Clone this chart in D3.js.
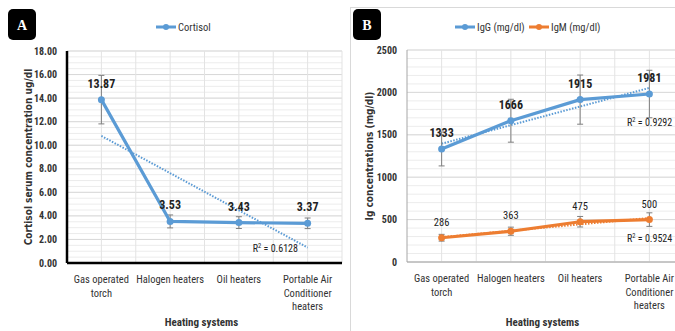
<!DOCTYPE html>
<html>
<head>
<meta charset="utf-8">
<script src="https://cdn.jsdelivr.net/npm/d3@7"></script>
<style>
  body { margin: 0; background: #fff; }
  svg { display: block; font-family: "Liberation Sans Narrow", "Roboto Condensed", "Liberation Sans", Arial, sans-serif; }
</style>
</head>
<body>
<svg id="chart" width="675" height="331"></svg>
<script>
// categories shared by both panels
const categories = [
  ["Gas operated", "torch"],
  ["Halogen heaters"],
  ["Oil heaters"],
  ["Portable Air", "Conditioner", "heaters"]
];

// panel A
const cortisol = [13.87, 3.53, 3.43, 3.37];
const cortisolErr = [2.06, 0.55, 0.5, 0.45];
const cortisolTicks = [0, 2, 4, 6, 8, 10, 12, 14, 16, 18];
const cortisolR2 = "0.6128";

// panel B
const igg = [1333, 1666, 1915, 1981];
const iggErr = [200, 253, 290, 280];
const igm = [286, 363, 475, 500];
const igmErr = [40, 48, 62, 80];
const igTicks = [0, 500, 1000, 1500, 2000, 2500];
const iggR2 = "0.9292";
const igmR2 = "0.9524";

const BLUE = "#5b9bd5";
const ORANGE = "#ed7d31";

const svg = d3.select("#chart");

// least squares fit on x = 1..n
function trend(vals) {
  const xs = vals.map((d, i) => i + 1);
  const mx = d3.mean(xs), my = d3.mean(vals);
  const b = d3.sum(xs, (x, i) => (x - mx) * (vals[i] - my)) / d3.sum(xs, x => (x - mx) ** 2);
  const a = my - b * mx;
  return [a + b * 1, a + b * vals.length];
}

function drawPanel(g, opt) {
  const x = d3.scaleBand().domain(d3.range(categories.length)).range([opt.x0, opt.x1]);
  const y = d3.scaleLinear().domain(opt.domain).range([opt.y0, opt.y1]);
  const cx = i => x(i) + x.bandwidth() / 2;

  // minor horizontal grid
  g.append("g").selectAll("line")
    .data(d3.range(opt.domain[0], opt.domain[1] + 1e-9, opt.minor))
    .join("line")
    .attr("x1", opt.x0).attr("x2", opt.gridEnd)
    .attr("y1", d => y(d)).attr("y2", d => y(d))
    .attr("stroke", "#ececec").attr("stroke-width", 1);
  // major horizontal grid
  g.append("g").selectAll("line")
    .data(opt.ticks)
    .join("line")
    .attr("x1", opt.x0).attr("x2", opt.gridEnd)
    .attr("y1", d => y(d)).attr("y2", d => y(d))
    .attr("stroke", "#d9d9d9").attr("stroke-width", 1);
  // vertical grid at category centres and boundaries
  const vx = [];
  categories.forEach((c, i) => { vx.push(x(i)); vx.push(cx(i)); });
  vx.push(opt.x1);
  g.append("g").selectAll("line")
    .data(vx.slice(1))
    .join("line")
    .attr("x1", d => d).attr("x2", d => d)
    .attr("y1", opt.y1).attr("y2", opt.y0)
    .attr("stroke", "#e3e3e3");

  // axes
  g.append("line").attr("x1", opt.x0).attr("x2", opt.x0).attr("y1", opt.y1).attr("y2", opt.y0)
    .attr("stroke", opt.axisColor).attr("stroke-width", opt.axisWidth);
  g.append("line").attr("x1", opt.x0).attr("x2", opt.x1).attr("y1", opt.y0).attr("y2", opt.y0)
    .attr("stroke", opt.axisColor).attr("stroke-width", opt.axisWidth);

  g.append("g").selectAll("text")
    .data(opt.ticks)
    .join("text")
    .attr("x", opt.x0 - 10).attr("y", d => y(d) + 3.5)
    .attr("text-anchor", "end")
    .attr("font-size", 10).attr("font-weight", "bold").attr("fill", "#333")
    .text(d => opt.fmt(d));

  // category labels
  const cl = g.append("g");
  categories.forEach((lines, i) => {
    lines.forEach((t, k) => {
      cl.append("text")
        .attr("x", cx(i)).attr("y", opt.y0 + 20 + k * 13.5)
        .attr("text-anchor", "middle").attr("font-size", 10.5).attr("fill", "#333")
        .text(t);
    });
  });

  // axis titles
  g.append("text")
    .attr("x", (opt.x0 + opt.x1) / 2 - 3).attr("y", 326)
    .attr("text-anchor", "middle").attr("font-size", 11).attr("font-weight", "bold").attr("fill", "#333")
    .text("Heating systems");
  g.append("text")
    .attr("transform", `translate(${opt.titleX},${(opt.y0 + opt.y1) / 2}) rotate(-90)`)
    .attr("text-anchor", "middle").attr("font-size", 10).attr("font-weight", "bold").attr("fill", "#333")
    .attr("font-family", "DejaVu Sans Condensed, DejaVu Sans, sans-serif")
    .text(opt.yTitle);

  // series
  opt.series.forEach(s => {
    const sg = g.append("g");
    // trendline
    const t = trend(s.values);
    sg.append("line")
      .attr("x1", cx(0)).attr("x2", cx(s.values.length - 1))
      .attr("y1", y(t[0])).attr("y2", y(t[1]))
      .attr("stroke", s.color).attr("stroke-width", 2).attr("stroke-dasharray", "1.5,1.5");
    // error bars
    s.values.forEach((v, i) => {
      const e = s.err[i];
      sg.append("line").attr("x1", cx(i)).attr("x2", cx(i)).attr("y1", y(v + e)).attr("y2", y(v - e))
        .attr("stroke", "#7f7f7f").attr("stroke-width", 1);
      [v + e, v - e].forEach(w => {
        sg.append("line").attr("x1", cx(i) - 3).attr("x2", cx(i) + 3).attr("y1", y(w)).attr("y2", y(w))
          .attr("stroke", "#7f7f7f").attr("stroke-width", 1);
      });
    });
    sg.append("path")
      .datum(s.values)
      .attr("d", d3.line().x((d, i) => cx(i)).y(d => y(d)))
      .attr("fill", "none").attr("stroke", s.color).attr("stroke-width", 3.2)
      .attr("stroke-linejoin", "round");
    sg.selectAll("circle").data(s.values).join("circle")
      .attr("cx", (d, i) => cx(i)).attr("cy", d => y(d)).attr("r", 3.5)
      .attr("fill", s.color);
    sg.selectAll("text.lab").data(s.values).join("text")
      .attr("class", "lab")
      .attr("x", (d, i) => cx(i)).attr("y", d => y(d) - 12)
      .attr("text-anchor", "middle")
      .attr("font-size", s.bold ? 12 : 10.5).attr("font-weight", s.bold ? "bold" : "normal")
      .attr("fill", "#222")
      .text(d => s.fmt(d));
    // R squared
    const r = sg.append("text")
      .attr("x", s.r2x).attr("y", s.r2y)
      .attr("text-anchor", s.r2anchor).attr("font-size", 10).attr("fill", "#222");
    r.append("tspan").text("R");
    r.append("tspan").attr("font-size", 6.5).attr("dy", -4).text("2");
    r.append("tspan").attr("dy", 4).text(" = " + s.r2);
  });

  // legend
  const lg = g.append("g");
  opt.series.forEach(s => {
    lg.append("line").attr("x1", s.lx).attr("x2", s.lx + 20).attr("y1", 27).attr("y2", 27)
      .attr("stroke", s.color).attr("stroke-width", 3);
    lg.append("circle").attr("cx", s.lx + 10).attr("cy", 27).attr("r", 3).attr("fill", s.color);
    lg.append("text").attr("x", s.lx + 22).attr("y", 30.5).attr("font-size", 10.5).attr("fill", "#333")
      .text(s.name);
  });
}

function badge(x0, y0, letter) {
  svg.append("rect").attr("x", x0).attr("y", y0).attr("width", 28).attr("height", 31).attr("rx", 5)
    .attr("fill", "#000");
  svg.append("text").attr("x", x0 + 14).attr("y", y0 + 21).attr("text-anchor", "middle")
    .attr("font-family", "Liberation Serif, DejaVu Serif, serif").attr("font-weight", "bold")
    .attr("font-size", 14).attr("fill", "#fff").text(letter);
}

// panel B frame
svg.append("rect").attr("x", 350.5).attr("y", 7.5).attr("width", 330).attr("height", 330)
  .attr("fill", "none").attr("stroke", "#d9d9d9");

drawPanel(svg.append("g"), {
  x0: 67, x1: 342, y0: 263, y1: 51, gridEnd: 342,
  domain: [0, 18], ticks: cortisolTicks, minor: 0.5,
  fmt: d => d.toFixed(2),
  axisColor: "#000", axisWidth: 2.5,
  titleX: 32, yTitle: "Cortisol serum concentration ug/dl",
  series: [{
    name: "Cortisol", values: cortisol, err: cortisolErr, color: BLUE, bold: true,
    fmt: d => d.toFixed(2), r2: cortisolR2, r2x: 298, r2y: 252, r2anchor: "end", lx: 156
  }]
});

drawPanel(svg.append("g"), {
  x0: 407, x1: 684, y0: 262, y1: 50, gridEnd: 684,
  domain: [0, 2500], ticks: igTicks, minor: 100,
  fmt: d => d,
  axisColor: "#a6a6a6", axisWidth: 1,
  titleX: 373, yTitle: "Ig concentrations (mg/dl)",
  series: [{
    name: "IgG (mg/dl)", values: igg, err: iggErr, color: BLUE, bold: true,
    fmt: d => d, r2: iggR2, r2x: 627, r2y: 126, r2anchor: "start", lx: 455
  }, {
    name: "IgM (mg/dl)", values: igm, err: igmErr, color: ORANGE, bold: false,
    fmt: d => d, r2: igmR2, r2x: 627, r2y: 242, r2anchor: "start", lx: 529
  }]
});

badge(8, 9, "A");
badge(353, 9, "B");
</script>
</body>
</html>
